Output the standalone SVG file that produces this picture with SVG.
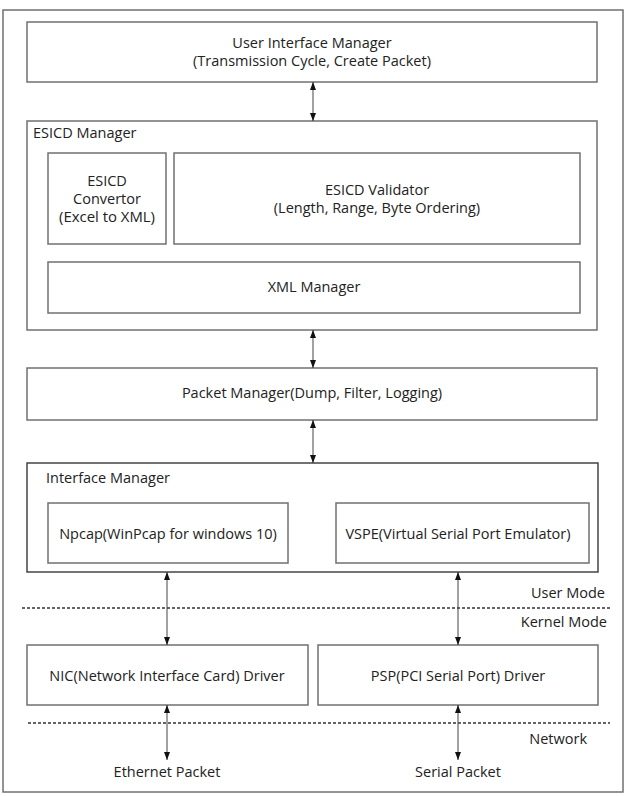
<svg xmlns="http://www.w3.org/2000/svg" width="643" height="796" viewBox="0 0 643 796">
<style>
  .box { fill: #ffffff; stroke: #707070; stroke-width: 1.5; }
  .dark { stroke: #444444; }
  .t { font-family: "Open Sans", "Noto Sans", "Liberation Sans", sans-serif; font-size: 14.5px; fill: #222222; }
  .c { text-anchor: middle; }
  .e { text-anchor: end; }
  .conn { stroke: #444444; stroke-width: 1; fill: none; marker-start: url(#ah); marker-end: url(#ah); }
  .dash { stroke: #333333; stroke-width: 1.5; stroke-dasharray: 3 2; fill: none; }
</style>
<defs>
  <marker id="ah" viewBox="0 0 8 6" refX="8" refY="3" markerWidth="8" markerHeight="6" markerUnits="userSpaceOnUse" orient="auto-start-reverse">
    <path d="M0,0 L8,3 L0,6 z" fill="#111111"/>
  </marker>
</defs>
<rect width="643" height="796" fill="#ffffff"/>
<g id="frame">
  <rect class="box" x="3" y="10" width="620" height="782"/>
</g>
<g id="ui-manager">
  <rect class="box" x="27" y="22" width="570" height="60"/>
  <text class="t c" x="312" y="48">User Interface Manager</text>
  <text class="t c" x="312" y="66">(Transmission Cycle, Create Packet)</text>
</g>
<g id="esicd-manager">
  <rect class="box" x="27" y="121" width="570" height="209"/>
  <text class="t" x="33" y="138">ESICD Manager</text>
</g>
<g id="esicd-convertor">
  <rect class="box" x="48" y="153" width="118" height="91"/>
  <text class="t c" x="107" y="186">ESICD</text>
  <text class="t c" x="107" y="204">Convertor</text>
  <text class="t c" x="107" y="222" textLength="96" lengthAdjust="spacingAndGlyphs">(Excel to XML)</text>
</g>
<g id="esicd-validator">
  <rect class="box" x="174" y="153" width="406" height="91"/>
  <text class="t c" x="377" y="195">ESICD Validator</text>
  <text class="t c" x="377" y="213">(Length, Range, Byte Ordering)</text>
</g>
<g id="xml-manager">
  <rect class="box" x="48" y="262" width="532" height="51"/>
  <text class="t c" x="314" y="292">XML Manager</text>
</g>
<g id="packet-manager">
  <rect class="box" x="27" y="368" width="570" height="52"/>
  <text class="t c" x="312" y="398">Packet Manager(Dump, Filter, Logging)</text>
</g>
<g id="interface-manager">
  <rect class="box dark" x="27" y="463" width="571" height="109"/>
  <text class="t" x="46" y="483">Interface Manager</text>
</g>
<g id="npcap">
  <rect class="box" x="48" y="503" width="240" height="60"/>
  <text class="t c" x="168" y="539">Npcap(WinPcap for windows 10)</text>
</g>
<g id="vspe">
  <rect class="box" x="336" y="503" width="253" height="60"/>
  <text class="t c" x="458" y="539">VSPE(Virtual Serial Port Emulator)</text>
</g>
<g id="nic-driver">
  <rect class="box" x="27" y="645" width="281" height="60"/>
  <text class="t c" x="167" y="681">NIC(Network Interface Card) Driver</text>
</g>
<g id="psp-driver">
  <rect class="box" x="318" y="645" width="280" height="60"/>
  <text class="t c" x="458" y="681">PSP(PCI Serial Port) Driver</text>
</g>
<g id="ethernet-packet">
  <text class="t c" x="167" y="777">Ethernet Packet</text>
</g>
<g id="serial-packet">
  <text class="t c" x="458" y="777">Serial Packet</text>
</g>
<g id="mode-labels">
  <line class="dash" x1="22" y1="608" x2="610" y2="608"/>
  <line class="dash" x1="28" y1="723" x2="610" y2="723"/>
  <text class="t e" x="605" y="598">User Mode</text>
  <text class="t e" x="607" y="627">Kernel Mode</text>
  <text class="t e" x="587" y="744">Network</text>
</g>
<g id="connectors">
  <line class="conn" x1="313" y1="82" x2="313" y2="121"/>
  <line class="conn" x1="313" y1="330" x2="313" y2="368"/>
  <line class="conn" x1="313" y1="420" x2="313" y2="463"/>
  <line class="conn" x1="167" y1="572" x2="167" y2="645"/>
  <line class="conn" x1="458" y1="572" x2="458" y2="645"/>
  <line class="conn" x1="167" y1="705" x2="167" y2="760"/>
  <line class="conn" x1="458" y1="705" x2="458" y2="760"/>
</g>
</svg>
